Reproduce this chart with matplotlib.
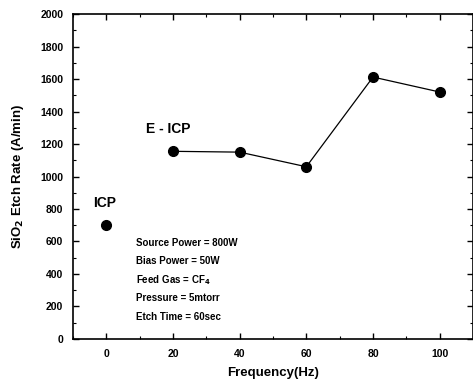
import matplotlib.pyplot as plt
from matplotlib.ticker import MultipleLocator

plt.rcParams['font.family'] = ['Liberation Sans', 'DejaVu Sans']
plt.rcParams['font.weight'] = 'bold'
plt.rcParams['mathtext.default'] = 'bf'

icp_freq = [0]
icp_rate = [700]
eicp_freq = [20, 40, 60, 80, 100]
eicp_rate = [1155, 1150, 1060, 1612, 1520]

conditions = ['Source Power = 800W', 'Bias Power = 50W', 'Feed Gas = CF$_4$',
              'Pressure = 5mtorr', 'Etch Time = 60sec']

fig = plt.figure(figsize=(4.73, 3.85), dpi=100)
ax = fig.add_axes([0.1543, 0.1195, 0.8457, 0.8441])

ax.plot(eicp_freq, eicp_rate, color='black', lw=0.9, marker='o', ms=7)
ax.plot(icp_freq, icp_rate, color='black', ls='none', marker='o', ms=7)

ax.set_xlim(-10, 110)
ax.set_ylim(0, 2000)
ax.xaxis.set_major_locator(MultipleLocator(20))
ax.xaxis.set_minor_locator(MultipleLocator(10))
ax.yaxis.set_major_locator(MultipleLocator(200))
ax.yaxis.set_minor_locator(MultipleLocator(100))
ax.tick_params(which='both', direction='in', top=True, right=True, labelsize=7.5, pad=7)
ax.tick_params(which='major', length=4, width=1)
ax.tick_params(which='minor', length=2, width=0.8)
ax.set_xticks([0, 20, 40, 60, 80, 100])
for s in ax.spines.values():
    s.set_linewidth(1.2)

ax.set_xlabel('Frequency(Hz)', fontsize=9.5, fontweight='bold', labelpad=6)
ax.set_ylabel('SiO$_2$ Etch Rate (A/min)', fontsize=9.5, fontweight='bold', labelpad=10)

ax.text(-4, 810, 'ICP', fontsize=10, fontweight='bold')
ax.text(12, 1270, 'E - ICP', fontsize=10, fontweight='bold')
for i, line in enumerate(conditions):
    ax.text(9, 590 - i * 113, line, fontsize=7, fontweight='bold', va='center')

fig.savefig('out.png', dpi=100)
